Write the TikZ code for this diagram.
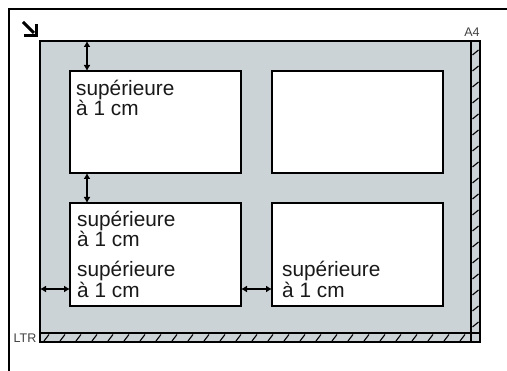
\documentclass[tikz,border=0pt]{standalone}
\usepackage{fontspec}
\setmainfont{Liberation Sans}
\usetikzlibrary{arrows.meta}
\definecolor{paper}{RGB}{204,211,214}
\begin{document}
\begin{tikzpicture}[x=1pt,y=-1pt,
  box/.style={draw=black, line width=1.8pt, fill=white, inner sep=0pt, outer sep=0pt, anchor=north west},
  lbl/.style={font=\fontsize{20.8}{20.5}\selectfont, text=black!90, inner sep=0pt, align=left, anchor=base west},
  dim/.style={line width=2pt, {Latex[length=6pt,width=7pt]}-{Latex[length=6pt,width=7pt]}},
  tag/.style={font=\fontsize{12.5}{12.5}\selectfont, text=black!75, inner sep=0pt},
  hatch/.style={line width=1.1pt}]
\useasboundingbox (0,0) rectangle (507,371);
% outer frame
\draw[line width=2pt] (9,371) -- (9,9) -- (507,9);
% corner arrow icon
\draw[line width=3pt] (23,22) -- (34,33);
\draw[line width=3pt, miter limit=4] (36,24) -- (36,36) -- (24,36);
% hatched margins
\fill[paper] (40,41) rectangle (480,342);
\draw[line width=1.5pt] (471,41) rectangle (480,342);
\draw[line width=1.5pt] (40,333) rectangle (480,342);
\foreach \x in {44,60,...,470} \draw[hatch] (\x,341) -- (\x+5,334.5);
\foreach \y in {50,66,...,330} \draw[hatch] (472.5,\y+5) -- (478.5,\y);
% paper area
\node[box, fill=paper, line width=1.8pt, minimum width=431pt, minimum height=292pt] (paper) at (40,41) {};
% originals
\node[box, minimum width=171pt, minimum height=102pt] (tl) at (70,71) {};
\node[box, minimum width=171pt, minimum height=102pt] (tr) at (272,71) {};
\node[box, minimum width=171pt, minimum height=103pt] (bl) at (70,203) {};
\node[box, minimum width=171pt, minimum height=103pt] (br) at (272,203) {};
% labels (anchored at the baseline of their last line)
\node[lbl] (t1) at (76,116) {supérieure\\à 1 cm};
\node[lbl] (t2) at (77,247) {supérieure\\à 1 cm};
\node[lbl] (t3) at (77,297.5) {supérieure\\à 1 cm};
\node[lbl] (t4) at (282,297.5) {supérieure\\à 1 cm};
\node[tag] (lt) at (25,338) {LTR};
\node[tag] (a4) at (472,32) {A4};
% dimension arrows
\coordinate (v1) at ([xshift=17pt]tl.north west);
\draw[dim] (v1) -- (v1 |- paper.north);
\coordinate (v2) at ([xshift=17pt]bl.north west);
\draw[dim] (v2) -- (v2 |- tl.south);
\coordinate (h1) at ([yshift=17pt]bl.south west);
\draw[dim] (h1) -- (h1 -| paper.west);
\coordinate (h2) at ([yshift=17pt]br.south west);
\draw[dim] (h2) -- (h2 -| bl.east);
\end{tikzpicture}
\end{document}
